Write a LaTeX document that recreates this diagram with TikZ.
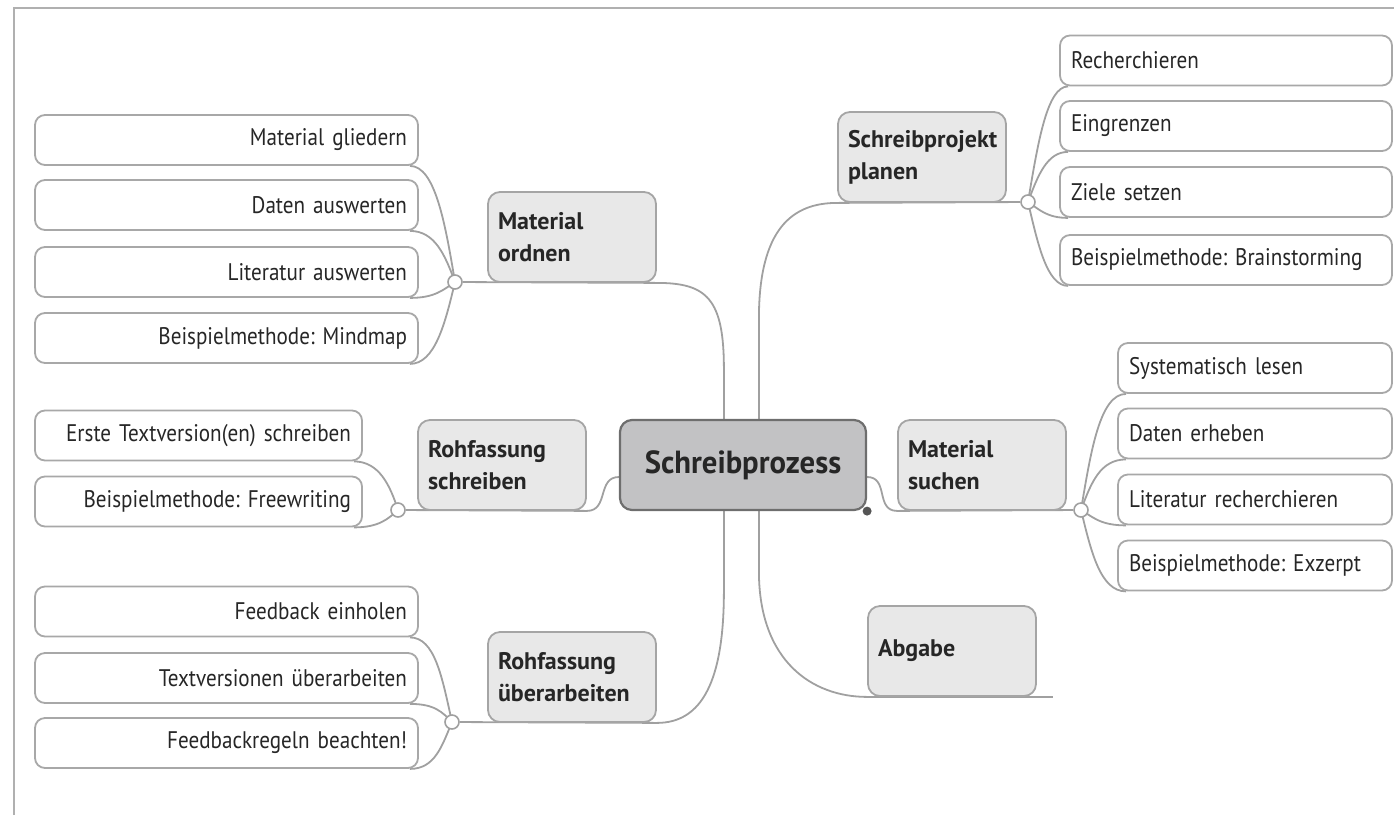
\documentclass[tikz,border=0pt]{standalone}
\usepackage{fontspec}
\setmainfont{PT Sans}
\newfontfamily\leaffont{PT Sans}[FakeStretch=0.88, WordSpace=0.8]
\newfontfamily\brfont{PT Sans}[FakeStretch=1.0, WordSpace=0.8]
\newfontfamily\corefont{PT Sans}[FakeStretch=0.96]
\frenchspacing
\usetikzlibrary{calc}
\pgfdeclarelayer{bg}
\pgfsetlayers{bg,main}
\definecolor{linec}{HTML}{A0A0A0}
\definecolor{leafc}{HTML}{A8A8A8}
\definecolor{brc}{HTML}{A5A5A5}
\definecolor{brfill}{HTML}{E8E8E8}
\definecolor{corec}{HTML}{6E6E6E}
\definecolor{corefill}{HTML}{C2C2C4}
\definecolor{txtc}{HTML}{262626}
\definecolor{framec}{HTML}{B0B0B0}
\definecolor{dotc}{HTML}{555555}
\tikzset{
  leaf/.style={draw=leafc, fill=white, line width=1.8pt, rounded corners=10pt, minimum height=50pt, inner ysep=0pt, text=txtc, font=\leaffont\fontsize{24}{28}\selectfont},
  leafL/.style={leaf, align=right, inner xsep=11pt},
  leafR/.style={leaf, align=left, inner xsep=11pt},
  branch/.style={draw=brc, fill=brfill, line width=1.8pt, rounded corners=12pt, minimum width=168pt, minimum height=90pt, text width=148pt, inner xsep=10pt, align=left, text=txtc, font=\brfont\bfseries\fontsize{24}{32}\selectfont},
  core/.style={draw=corec, fill=corefill, line width=2.2pt, rounded corners=12pt, minimum width=246pt, minimum height=90pt, text=txtc, font=\corefont\bfseries\fontsize{32}{36}\selectfont},
  conn/.style={draw=linec, line width=1.8pt},
  hub/.style={circle, draw=linec, fill=white, line width=1.6pt, minimum size=14pt, inner sep=0pt},
  cdot/.style={circle, fill=dotc, minimum size=9pt, inner sep=0pt}
}
\begin{document}
\begin{tikzpicture}[x=1pt, y=-1pt]
\useasboundingbox (0,0) rectangle (1394,815);
\draw[framec, line width=1.5pt] (14,815) -- (14,8) -- (1394,8);

% center
\node[core] (cn) at (743,465) {Schreibprozess};
\node[cdot] (dot) at (cn.south east) {};

% branches
\node[branch] (bmo) at (572,237) {Material\\ordnen};
\node[branch] (brs) at (502,465) {Rohfassung\\schreiben};
\node[branch] (bru) at (572,677) {Rohfassung\\überarbeiten};
\node[branch] (bsp) at (922,157) {Schreibprojekt\\planen};
\node[branch] (bms) at (982,465) {Material\\suchen};
\node[branch] (bab) at (952,651) {Abgabe};

% hubs
\node[hub] (c1) at (455,282) {};
\node[hub] (c2) at (398,510) {};
\node[hub] (c3) at (452,722) {};
\node[hub] (c4) at (1028,202) {};
\node[hub] (c5) at (1081,510) {};

% leaves left
\node[leafL, text width=361pt] (mo1) at (226.5,140) {Material gliedern};
\node[leafL, text width=361pt] (mo2) at (226.5,205) {Daten auswerten};
\node[leafL, text width=361pt] (mo3) at (226.5,272) {Literatur auswerten};
\node[leafL, text width=361pt] (mo4) at (226.5,338) {Beispielmethode: Mindmap};
\node[leafL, text width=305pt] (rs1) at (198.5,435.5) {Erste Textversion(en) schreiben};
\node[leafL, text width=305pt] (rs2) at (198.5,501.5) {Beispielmethode: Freewriting};
\node[leafL, text width=361pt] (ru1) at (226.5,611.5) {Feedback einholen};
\node[leafL, text width=361pt] (ru2) at (226.5,678) {Textversionen überarbeiten};
\node[leafL, text width=361pt] (ru3) at (226.5,743) {Feedbackregeln beachten!};
% leaves right
\node[leafR, text width=310pt] (sp1) at (1226,60.5) {Recherchieren};
\node[leafR, text width=310pt] (sp2) at (1226,126) {Eingrenzen};
\node[leafR, text width=310pt] (sp3) at (1226,192) {Ziele setzen};
\node[leafR, text width=310pt] (sp4) at (1226,260) {Beispielmethode: Brainstorming};
\node[leafR, text width=252pt] (ms1) at (1255,368) {Systematisch lesen};
\node[leafR, text width=252pt] (ms2) at (1255,433.5) {Daten erheben};
\node[leafR, text width=252pt] (ms3) at (1255,499.5) {Literatur recherchieren};
\node[leafR, text width=252pt] (ms4) at (1255,565.5) {Beispielmethode: Exzerpt};

\coordinate (abend) at ($(bab.south east)+(16,0)$);

\begin{pgfonlayer}{bg}
% center to branches
\draw[conn] ($(cn.north west)+(105,0)$) -- ($(cn.north west)+(105,-50)$) .. controls ($(cn.north west)+(105,-120)$) and ($(bmo.south east)+(50,0)$) .. (bmo.south east) -- (c1);
\draw[conn] ($(cn.south west)+(105,0)$) -- ($(cn.south west)+(105,80)$) .. controls ($(cn.south west)+(105,170)$) and ($(bru.south east)+(45,0)$) .. (bru.south east) -- (c3);
\draw[conn] ($(cn.north west)+(140,0)$) -- ($(cn.north west)+(140,-100)$) .. controls ($(cn.north west)+(140,-190)$) and ($(bsp.south west)+(-45,0)$) .. (bsp.south west) -- (c4);
\draw[conn] ($(cn.south west)+(140,0)$) -- ($(cn.south west)+(140,60)$) .. controls ($(cn.south west)+(140,150)$) and ($(bab.south west)+(-55,0)$) .. (bab.south west) -- (abend);
\draw[conn] ($(cn.west)+(0,12)$) .. controls ($(cn.west)+(-22,12)$) and ($(brs.south east)+(22,0)$) .. (brs.south east) -- (c2);
\draw[conn] ($(cn.east)+(0,12)$) .. controls ($(cn.east)+(22,12)$) and ($(bms.south west)+(-22,0)$) .. (bms.south west) -- (c5);

% hub c1
\draw[conn] (c1.center) .. controls ($(c1)+(-10,-60)$) and ($(mo1.south east)+(16,0)$) .. ($(mo1.south east)+(-9,0)$);
\draw[conn] (c1.center) .. controls ($(c1)+(-10,-27)$) and ($(mo2.south east)+(16,0)$) .. ($(mo2.south east)+(-9,0)$);
\draw[conn] (c1.center) .. controls ($(c1)+(-12,8)$) and ($(mo3.south east)+(16,0)$) .. ($(mo3.south east)+(-9,0)$);
\draw[conn] (c1.center) .. controls ($(c1)+(-10,42)$) and ($(mo4.south east)+(16,0)$) .. ($(mo4.south east)+(-9,0)$);
% hub c2
\draw[conn] (c2.center) .. controls ($(c2)+(-8,-25)$) and ($(rs1.south east)+(16,0)$) .. ($(rs1.south east)+(-9,0)$);
\draw[conn] (c2.center) .. controls ($(c2)+(-10,9)$) and ($(rs2.south east)+(16,0)$) .. ($(rs2.south east)+(-9,0)$);
% hub c3
\draw[conn] (c3.center) .. controls ($(c3)+(-10,-45)$) and ($(ru1.south east)+(16,0)$) .. ($(ru1.south east)+(-9,0)$);
\draw[conn] (c3.center) .. controls ($(c3)+(-10,-10)$) and ($(ru2.south east)+(16,0)$) .. ($(ru2.south east)+(-9,0)$);
\draw[conn] (c3.center) .. controls ($(c3)+(-10,24)$) and ($(ru3.south east)+(16,0)$) .. ($(ru3.south east)+(-9,0)$);
% hub c4
\draw[conn] (c4.center) .. controls ($(c4)+(10,-60)$) and ($(sp1.south west)+(-12,0)$) .. ($(sp1.south west)+(9,0)$);
\draw[conn] (c4.center) .. controls ($(c4)+(10,-27)$) and ($(sp2.south west)+(-12,0)$) .. ($(sp2.south west)+(9,0)$);
\draw[conn] (c4.center) .. controls ($(c4)+(12,8)$) and ($(sp3.south west)+(-12,0)$) .. ($(sp3.south west)+(9,0)$);
\draw[conn] (c4.center) .. controls ($(c4)+(10,43)$) and ($(sp4.south west)+(-12,0)$) .. ($(sp4.south west)+(9,0)$);
% hub c5
\draw[conn] (c5.center) .. controls ($(c5)+(10,-60)$) and ($(ms1.south west)+(-17,0)$) .. ($(ms1.south west)+(9,0)$);
\draw[conn] (c5.center) .. controls ($(c5)+(10,-27)$) and ($(ms2.south west)+(-17,0)$) .. ($(ms2.south west)+(9,0)$);
\draw[conn] (c5.center) .. controls ($(c5)+(12,7)$) and ($(ms3.south west)+(-17,0)$) .. ($(ms3.south west)+(9,0)$);
\draw[conn] (c5.center) .. controls ($(c5)+(10,41)$) and ($(ms4.south west)+(-17,0)$) .. ($(ms4.south west)+(9,0)$);
\end{pgfonlayer}
\end{tikzpicture}
\end{document}
